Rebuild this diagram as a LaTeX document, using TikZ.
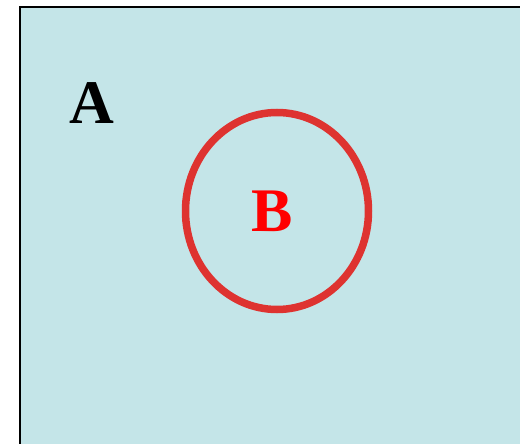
\documentclass[tikz,border=0pt]{standalone}
\usepackage{fontspec}
\setmainfont{Liberation Serif}
\usetikzlibrary{positioning,shapes.geometric}

\definecolor{setfill}{RGB}{196,229,232}
\definecolor{setred}{RGB}{222,51,48}

\begin{document}
\begin{tikzpicture}[
    x=1pt, y=-1pt,
    every node/.style={inner sep=0pt},
    setlabel/.style={font=\fontsize{62}{62}\selectfont\bfseries, anchor=base}
]

% marco de la imagen
\useasboundingbox (0,0) rectangle (520,444);
\clip (0,0) rectangle (520,444);

% conjunto A: el rectangulo de fondo
\draw[line width=2pt, fill=setfill] (20,7) rectangle (540,470);

\node[setlabel] (labelA) at (92,124) {A};

% conjunto B dentro de A
\node[draw=setred, line width=7.5pt, ellipse,
      minimum width=183pt, minimum height=197pt] (setB) at (277,211) {};

\node[setlabel, text=red] (labelB) at (272,231) {B};

\end{tikzpicture}
\end{document}
